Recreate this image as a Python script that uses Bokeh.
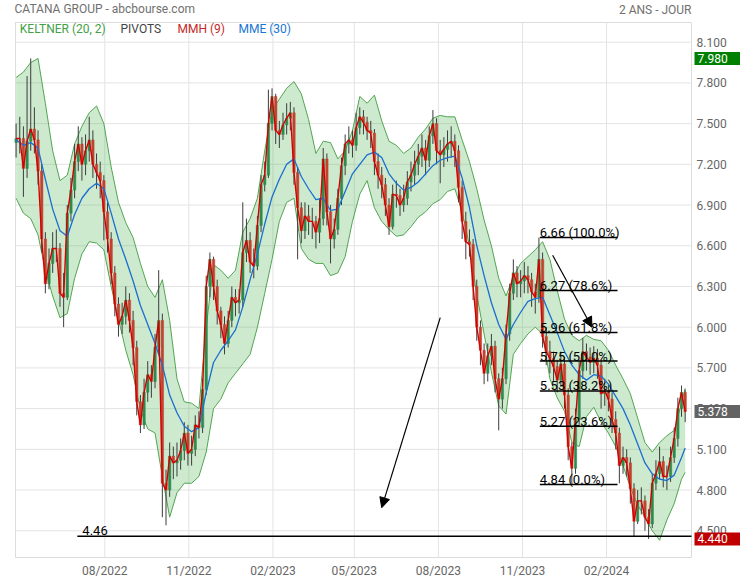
import numpy as np
import pandas as pd
from bokeh.plotting import figure
from bokeh.models import (Range1d, FixedTicker, PrintfTickFormatter, DatetimeTickFormatter,
                          Label, Arrow, NormalHead)
from bokeh.embed import file_html
from bokeh.resources import INLINE
from bokeh.core.properties import value

# ---------------- data ----------------
start_date = "2022-04-26"
period_days = 4
first_open = 7.36

closes = [
    7.39, 7.39, 7.17, 7.37, 7.46, 7.38, 7.15, 6.65, 6.32, 6.47,
    6.58, 6.58, 6.25, 6.22, 6.84, 7.01, 7.22, 7.35, 7.20, 7.30,
    7.38, 7.20, 7.14, 7.08, 6.85, 6.65, 6.40, 6.17, 6.02, 6.08,
    6.20, 6.05, 5.85, 5.45, 5.28, 5.52, 5.65, 5.60, 5.85, 6.05,
    4.85, 4.80, 5.05, 5.00, 5.02, 5.09, 5.22, 5.07, 5.10, 5.28,
    5.26, 5.54, 6.30, 6.50, 6.30, 6.12, 6.02, 5.88, 6.05, 6.22,
    6.18, 6.20, 6.55, 6.64, 6.48, 6.45, 6.75, 7.05, 7.12, 7.50,
    7.70, 7.45, 7.42, 7.49, 7.54, 7.58, 7.14, 6.88, 6.71, 6.82,
    6.78, 6.78, 6.70, 6.80, 7.24, 6.85, 6.65, 6.72, 6.95, 7.19,
    7.35, 7.38, 7.34, 7.47, 7.55, 7.51, 7.45, 7.43, 7.22, 7.12,
    7.05, 6.90, 6.74, 6.98, 6.97, 6.90, 6.95, 7.07, 7.12, 7.20,
    7.26, 7.32, 7.23, 7.41, 7.50, 7.30, 7.27, 7.31, 7.35, 7.37,
    7.30, 7.03, 6.78, 6.63, 6.61, 6.30, 6.00, 5.83, 5.66, 5.79,
    5.86, 5.62, 5.47, 5.62, 5.95, 6.25, 6.40, 6.32, 6.34, 6.38,
    6.35, 6.26, 6.22, 6.50, 5.93, 5.82, 5.77, 5.71, 5.61, 5.73,
    5.50, 5.12, 4.96, 5.32, 5.68, 5.82, 5.78, 5.74, 5.77, 5.72,
    5.51, 5.53, 5.47, 5.32, 5.22, 4.98, 5.04, 5.00, 4.81, 4.57,
    4.72, 4.72, 4.60, 4.55, 4.85, 4.92, 5.01, 4.90, 4.90, 5.04,
    5.18, 5.40, 5.52, 5.378,
]

highs = [
    7.50, 7.55, 7.48, 7.85, 7.98, 7.62, 7.45, 7.20, 6.70, 6.58,
    6.70, 6.72, 6.62, 6.40, 6.90, 7.10, 7.35, 7.48, 7.40, 7.42,
    7.55, 7.45, 7.28, 7.22, 7.12, 6.92, 6.70, 6.45, 6.22, 6.18,
    6.30, 6.25, 6.12, 5.90, 5.50, 5.62, 5.75, 5.72, 5.95, 6.42,
    6.10, 4.95, 5.15, 5.12, 5.15, 5.18, 5.30, 5.28, 5.20, 5.35,
    5.38, 5.62, 6.38, 6.55, 6.52, 6.35, 6.15, 6.08, 6.12, 6.30,
    6.28, 6.28, 6.92, 6.80, 6.70, 6.58, 6.82, 7.12, 7.22, 7.75,
    7.76, 7.72, 7.52, 7.58, 7.65, 7.66, 7.62, 7.18, 6.92, 6.92,
    6.90, 6.88, 6.82, 6.95, 7.32, 7.28, 6.90, 6.80, 7.02, 7.25,
    7.42, 7.48, 7.45, 7.58, 7.62, 7.60, 7.55, 7.52, 7.46, 7.28,
    7.18, 7.10, 6.95, 7.05, 7.08, 7.02, 7.05, 7.15, 7.22, 7.30,
    7.35, 7.42, 7.38, 7.48, 7.60, 7.54, 7.38, 7.40, 7.45, 7.48,
    7.42, 7.34, 7.08, 6.85, 6.72, 6.65, 6.35, 6.05, 5.88, 5.88,
    5.95, 5.90, 5.66, 5.70, 6.02, 6.32, 6.50, 6.45, 6.42, 6.48,
    6.45, 6.40, 6.32, 6.66, 6.55, 6.00, 5.90, 5.82, 5.76, 5.82,
    5.78, 5.55, 5.15, 5.40, 5.75, 5.92, 5.88, 5.85, 5.86, 5.84,
    5.76, 5.62, 5.58, 5.52, 5.38, 5.26, 5.12, 5.10, 5.04, 4.85,
    4.80, 4.82, 4.76, 4.66, 4.92, 5.02, 5.12, 5.05, 4.98, 5.12,
    5.26, 5.48, 5.57, 5.54,
]

lows = [
    7.25, 7.28, 6.96, 7.10, 7.30, 7.28, 7.05, 6.55, 6.25, 6.28,
    6.40, 6.48, 6.15, 6.00, 6.20, 6.78, 6.95, 7.15, 7.08, 7.12,
    7.22, 7.10, 7.02, 6.95, 6.64, 6.55, 6.32, 6.08, 5.93, 5.95,
    6.02, 5.96, 5.72, 5.35, 5.22, 5.25, 5.45, 5.48, 5.55, 5.80,
    4.60, 4.54, 4.75, 4.88, 4.90, 4.95, 5.02, 4.98, 4.98, 5.05,
    5.18, 5.22, 5.50, 6.22, 6.20, 6.02, 5.92, 5.80, 5.85, 6.00,
    6.08, 6.10, 6.15, 6.48, 6.40, 6.36, 6.42, 6.70, 7.00, 7.10,
    7.45, 7.35, 7.32, 7.38, 7.42, 7.45, 7.05, 6.50, 6.62, 6.65,
    6.68, 6.65, 6.58, 6.62, 6.75, 6.75, 6.47, 6.58, 6.68, 6.90,
    7.12, 7.28, 7.25, 7.30, 7.42, 7.42, 7.38, 7.32, 7.12, 7.02,
    6.95, 6.82, 6.68, 6.72, 6.88, 6.82, 6.85, 6.90, 7.00, 7.05,
    7.12, 7.18, 7.12, 7.18, 7.35, 7.20, 7.06, 7.18, 7.22, 7.25,
    7.18, 6.92, 6.65, 6.50, 6.52, 6.20, 5.90, 5.72, 5.58, 5.60,
    5.72, 5.52, 5.24, 5.40, 5.58, 5.90, 6.20, 6.22, 6.22, 6.25,
    6.25, 6.15, 6.10, 6.18, 5.85, 5.72, 5.66, 5.60, 5.52, 5.56,
    5.40, 5.02, 4.84, 4.92, 5.28, 5.62, 5.68, 5.65, 5.66, 5.62,
    5.40, 5.42, 5.38, 5.22, 5.10, 4.85, 4.92, 4.90, 4.70, 4.46,
    4.55, 4.62, 4.50, 4.44, 4.52, 4.80, 4.88, 4.82, 4.80, 4.86,
    5.00, 5.12, 5.34, 5.30,
]

# Keltner (20, 2) channel and MME (30), read every other candle (+ last one)
kelt_upper = [
    7.84, 7.88, 7.95, 7.98, 7.65, 7.30, 7.08, 7.12, 7.35, 7.48,
    7.58, 7.63, 7.50, 7.18, 6.92, 6.77, 6.66, 6.47, 6.30, 6.22,
    6.35, 6.05, 5.62, 5.45, 5.44, 5.40, 6.00, 6.46, 6.42, 6.36,
    6.42, 6.70, 6.80, 6.95, 7.30, 7.60, 7.68, 7.76, 7.81, 7.72,
    7.53, 7.28, 7.37, 7.36, 7.24, 7.30, 7.45, 7.70, 7.65, 7.71,
    7.52, 7.37, 7.34, 7.28, 7.32, 7.40, 7.46, 7.54, 7.56, 7.55,
    7.55, 7.38, 7.22, 7.02, 6.79, 6.60, 6.36, 6.23, 6.37, 6.47,
    6.52, 6.57, 6.63, 6.50, 6.27, 6.06, 5.94, 5.90, 5.94, 5.91,
    5.90, 5.83, 5.72, 5.62, 5.51, 5.33, 5.15, 5.08, 5.15, 5.20,
    5.24, 5.44, 5.55,
]
kelt_lower = [
    6.95, 6.84, 6.80, 6.68, 6.42, 6.23, 6.07, 6.10, 6.36, 6.54,
    6.63, 6.62, 6.57, 6.30, 6.06, 5.83, 5.65, 5.39, 5.25, 5.22,
    4.90, 4.60, 4.78, 4.85, 4.85, 4.90, 5.08, 5.40, 5.47, 5.59,
    5.66, 5.73, 5.80, 6.00, 6.25, 6.50, 6.78, 6.92, 6.95, 6.58,
    6.50, 6.47, 6.47, 6.38, 6.40, 6.52, 6.78, 6.98, 7.08, 6.88,
    6.78, 6.72, 6.67, 6.68, 6.74, 6.81, 6.85, 6.91, 6.94, 7.00,
    7.02, 6.85, 6.60, 6.24, 5.95, 5.67, 5.42, 5.36, 5.80, 5.88,
    5.95, 6.00, 5.95, 5.62, 5.48, 5.38, 5.15, 5.12, 5.34, 5.41,
    5.30, 5.22, 5.12, 4.98, 4.82, 4.69, 4.60, 4.50, 4.43, 4.58,
    4.70, 4.88, 4.93,
]
mme30 = [
    7.38, 7.34, 7.36, 7.32, 7.09, 6.87, 6.71, 6.67, 6.83, 6.95,
    7.02, 7.06, 7.02, 6.84, 6.65, 6.50, 6.34, 6.16, 6.02, 5.88,
    5.72, 5.50, 5.37, 5.27, 5.23, 5.26, 5.52, 5.74, 5.83, 5.90,
    5.98, 6.15, 6.35, 6.54, 6.76, 6.96, 7.09, 7.20, 7.24, 7.11,
    7.02, 6.94, 6.95, 6.86, 6.87, 7.00, 7.13, 7.20, 7.27, 7.29,
    7.25, 7.13, 7.06, 7.01, 7.03, 7.07, 7.13, 7.19, 7.23, 7.25,
    7.26, 7.10, 6.88, 6.60, 6.38, 6.18, 6.02, 5.91, 6.02, 6.11,
    6.19, 6.21, 6.22, 6.09, 5.96, 5.82, 5.72, 5.65, 5.61, 5.65,
    5.64, 5.58, 5.49, 5.40, 5.28, 5.14, 5.00, 4.92, 4.88, 4.87,
    4.91, 5.04, 5.11,
]

fib_levels = [6.66, 6.27, 5.96, 5.75, 5.53, 5.27, 4.84]
fib_pcts = ["100.0%", "78.6%", "61.8%", "50.0%", "38.2%", "23.6%", "0.0%"]
fib_start = "2023-11-20"
fib_end = "2024-02-13"

support_level = 4.46
support_start = "2022-07-02"

price_max = 7.98
price_last = 5.378
price_min = 4.44

arrow_x0 = ["2023-12-04", "2023-08-03"]
arrow_y0 = [6.53, 6.07]
arrow_x1 = ["2024-01-16", "2023-05-31"]
arrow_y1 = [6.00, 4.67]

xtick_dates = ["2022-08-01", "2022-11-01", "2023-02-01", "2023-05-01",
               "2023-08-01", "2023-11-01", "2024-02-01"]
ytick_values = [4.5, 4.8, 5.1, 5.4, 5.7, 6.0, 6.3, 6.6, 6.9, 7.2, 7.5, 7.8, 8.1]

legend_items = ["KELTNER (20, 2)", "PIVOTS", "MMH (9)", "MME (30)"]
legend_colors = ["#43a047", "#444444", "#c62828", "#1976d2"]

# ---------------- build ----------------
n = len(closes)
dates = pd.date_range(start_date, periods=n, freq=f"{period_days}D")
c = np.array(closes)
o = np.array([first_open] + closes[:-1])
h = np.maximum(np.array(highs), np.maximum(o, c))
l = np.minimum(np.array(lows), np.minimum(o, c))
up = c >= o
body_col = np.where(up, "#2e8b4e", "#c0432f")

band_idx = list(range(0, n, 2)) + [n - 1]
band_dates = dates[band_idx]

def ms(d):
    return pd.Timestamp(d).value / 1e6

W, H = 740, 580
left_pad, right_pad, top_pad, bottom_pad = 15, 49, 22, 23     # plot area inside the canvas
x_start = pd.Timestamp("2022-04-25 08:00")
x_end = pd.Timestamp("2024-05-03 22:00")
y_lo, y_hi = 4.303, 8.245
dx = (x_end - x_start) / (W - left_pad - right_pad)
dy = (y_hi - y_lo) / (H - top_pad - bottom_pad)

p = figure(width=W, height=H, x_axis_type="datetime", y_axis_location="right",
           x_range=Range1d(x_start - left_pad * dx, x_end + right_pad * dx),
           y_range=Range1d(y_lo - bottom_pad * dy, y_hi + top_pad * dy),
           output_backend="svg", toolbar_location=None,
           min_border=0, min_border_left=0, min_border_right=0,
           min_border_top=0, min_border_bottom=0,
           background_fill_color="white", border_fill_color="white",
           outline_line_color=None)
p.grid.visible = False

# axes drawn at the edges of the plot area
p.xaxis.fixed_location = y_lo
p.yaxis.fixed_location = ms(x_end)
p.xaxis.ticker = FixedTicker(ticks=[ms(d) for d in xtick_dates])
p.xaxis.formatter = DatetimeTickFormatter(days="%m/%Y", months="%m/%Y", years="%m/%Y")
p.yaxis.ticker = FixedTicker(ticks=ytick_values)
p.yaxis.formatter = PrintfTickFormatter(format="%.3f")
for ax in (p.xaxis, p.yaxis):
    ax.axis_line_color = None
    ax.major_tick_line_color = None
    ax.minor_tick_line_color = None
    ax.major_tick_out = 0
    ax.major_tick_in = 0
    ax.major_label_text_font = "Roboto"
    ax.major_label_text_font_size = "12px"
    ax.major_label_text_color = "#666666"
p.xaxis.major_label_standoff = 6
p.yaxis.major_label_standoff = 5

# grid and outline of the plot area
nx, ny = len(xtick_dates), len(ytick_values)
p.segment(x0=pd.to_datetime(xtick_dates), y0=[y_lo] * nx, x1=pd.to_datetime(xtick_dates),
          y1=[y_hi] * nx, line_color="#e3e3e3", line_width=1)
p.segment(x0=[x_start] * ny, y0=ytick_values, x1=[x_end] * ny, y1=ytick_values,
          line_color="#e3e3e3", line_width=1)
p.quad(left=[x_start], right=[x_end], bottom=[y_lo], top=[y_hi],
       fill_color=None, line_color="#dcdcdc", line_width=1)

# Keltner channel
p.varea(x=band_dates, y1=kelt_lower, y2=kelt_upper, fill_color="#4caf50", fill_alpha=0.28)
p.line(band_dates, kelt_upper, line_color="#52a552", line_width=1)
p.line(band_dates, kelt_lower, line_color="#52a552", line_width=1)

# candles
w = period_days * 86400000 * 0.66
p.segment(x0=dates, y0=h, x1=dates, y1=l, line_color="#3d3d3d", line_width=1)
p.vbar(x=dates, width=w, top=np.maximum(o, c), bottom=np.minimum(o, c),
       fill_color=body_col, line_color=body_col, line_width=0.5)

# moving averages
p.line(band_dates, mme30, line_color="#1a6fd1", line_width=1.3)
p.line(dates, closes, line_color="#d40000", line_width=1.4)

# Fibonacci retracement
nf = len(fib_levels)
fx0 = [pd.Timestamp(fib_start)] * nf
fx1 = [pd.Timestamp(fib_end)] * nf
p.segment(x0=fx0, y0=fib_levels, x1=fx1, y1=fib_levels, line_color="black", line_width=1.5)
p.text(x=fx0, y=fib_levels, text=[f"{v:.2f}  ({pc})" for v, pc in zip(fib_levels, fib_pcts)],
       text_font=value("Roboto"), text_font_size="13px", text_color="black",
       text_baseline="alphabetic", y_offset=-5)

# support line
p.segment(x0=[pd.Timestamp(support_start)], y0=[support_level], x1=[x_end], y1=[support_level],
          line_color="black", line_width=1.5)
p.text(x=[pd.Timestamp(support_start)], y=[support_level], text=[f"{support_level:.2f}"],
       text_font=value("Roboto"), text_font_size="13px", text_color="black",
       text_baseline="alphabetic", x_offset=5, y_offset=-6)

# arrows
for xa, ya, xb, yb in zip(arrow_x0, arrow_y0, arrow_x1, arrow_y1):
    p.add_layout(Arrow(end=NormalHead(size=10, fill_color="black", line_color="black"),
                       x_start=ms(xa), y_start=ya, x_end=ms(xb), y_end=yb,
                       line_color="black", line_width=1.2))

# titles and legend (screen units, origin at bottom-left of the canvas)
p.add_layout(Label(x=14, y=H - 8.5, x_units="screen", y_units="screen",
                   text="CATANA GROUP - abcbourse.com", text_font="Roboto",
                   text_font_size="12px", text_color="#707070", text_baseline="alphabetic"))
p.add_layout(Label(x=W - right_pad, y=H - 9.5, x_units="screen", y_units="screen",
                   text="2 ANS - JOUR", text_font="Roboto", text_align="right",
                   text_font_size="12px", text_color="#707070", text_baseline="alphabetic"))
for xs, t, col in zip([19.3, 120, 177, 238], legend_items, legend_colors):
    p.add_layout(Label(x=xs, y=H - 28, x_units="screen", y_units="screen", text=t,
                       text_font="Roboto", text_font_size="12px", text_color=col,
                       text_baseline="alphabetic"))

# price boxes on the right
for val, bg in [(price_max, "#008000"), (price_last, "#636363"), (price_min, "#c00000")]:
    lab = Label(x=W - right_pad + 3, x_units="screen", y=val, y_units="data", text=f"{val:.3f}",
                text_font="Roboto", text_font_size="12px", text_color="white",
                text_baseline="middle", background_fill_color=bg)
    try:
        lab.padding = dict(left=3, right=16, top=2, bottom=2)
    except Exception:
        lab.padding = 2
    p.add_layout(lab)

open("out.html", "w").write(file_html(p, INLINE))
